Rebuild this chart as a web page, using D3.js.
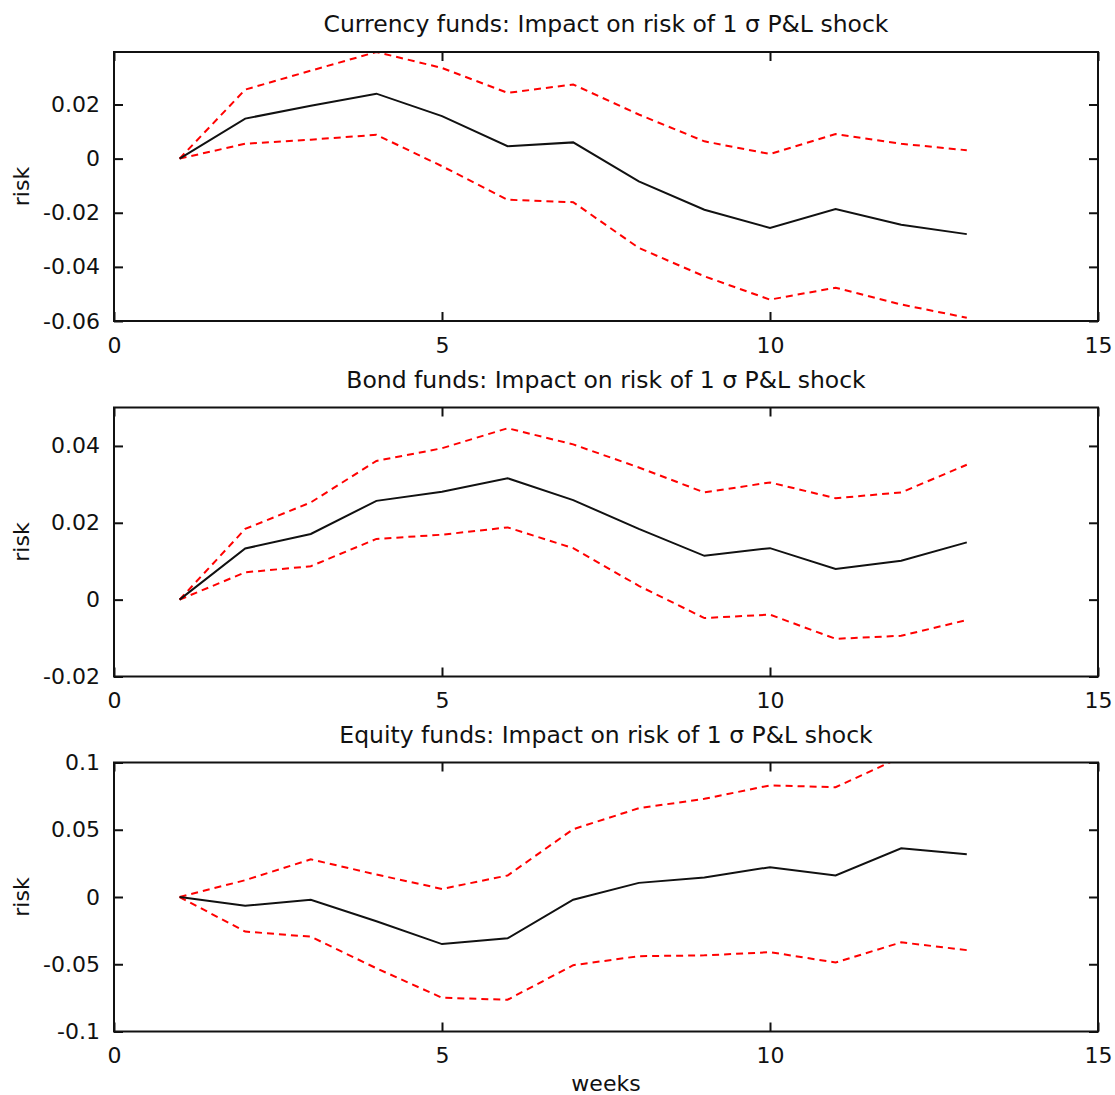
<!DOCTYPE html>
<html>
<head>
<meta charset="utf-8">
<script src="https://cdn.jsdelivr.net/npm/d3@7"></script>
<style>
  html, body { margin: 0; padding: 0; background: #fff; }
  svg { display: block; }
  text { font-family: "DejaVu Sans", sans-serif; fill: #111; }
</style>
</head>
<body>
<script>
// Horizon in weeks after the shock
const weeks = [1, 2, 3, 4, 5, 6, 7, 8, 9, 10, 11, 12, 13];

// Currency funds: impulse response and confidence band
const currencyMid   = [0, 0.0148, 0.0195, 0.0240, 0.0157, 0.0046, 0.0060, -0.0084, -0.0189, -0.0256, -0.0186, -0.0244, -0.0279];
const currencyUpper = [0, 0.0255, 0.0325, 0.0394, 0.0335, 0.0243, 0.0274, 0.0163, 0.0064, 0.0017, 0.0091, 0.0055, 0.0031];
const currencyLower = [0, 0.0055, 0.0070, 0.0088, -0.0028, -0.0152, -0.0161, -0.0330, -0.0435, -0.0521, -0.0477, -0.0539, -0.0588];

// Bond funds
const bondMid   = [0, 0.0133, 0.0171, 0.0257, 0.0281, 0.0316, 0.0259, 0.0184, 0.0114, 0.0134, 0.0080, 0.0101, 0.0149];
const bondUpper = [0, 0.0184, 0.0253, 0.0361, 0.0394, 0.0446, 0.0404, 0.0344, 0.0279, 0.0305, 0.0264, 0.0279, 0.0351];
const bondLower = [0, 0.0071, 0.0087, 0.0158, 0.0169, 0.0188, 0.0134, 0.0036, -0.0048, -0.0039, -0.0102, -0.0094, -0.0053];

// Equity funds
const equityMid   = [0, -0.0065, -0.0020, -0.0180, -0.0350, -0.0307, -0.0020, 0.0105, 0.0145, 0.0222, 0.0160, 0.0362, 0.0317];
const equityUpper = [0, 0.0125, 0.0280, 0.0167, 0.0060, 0.0160, 0.0504, 0.0660, 0.0730, 0.0830, 0.0816, 0.1040, 0.1120];
const equityLower = [0, -0.0257, -0.0295, -0.0530, -0.0749, -0.0764, -0.0507, -0.0440, -0.0434, -0.0410, -0.0487, -0.0337, -0.0395];

// Axis ticks
const xTicks = [0, 5, 10, 15];
const currencyTicks = [-0.06, -0.04, -0.02, 0, 0.02];
const bondTicks = [-0.02, 0, 0.02, 0.04];
const equityTicks = [-0.1, -0.05, 0, 0.05, 0.1];

// Panel titles and axis labels
const titles = [
  "Currency funds: Impact on risk of 1 \u03c3 P&L shock",
  "Bond funds: Impact on risk of 1 \u03c3 P&L shock",
  "Equity funds: Impact on risk of 1 \u03c3 P&L shock"
];
const yLabel = "risk";
const xLabel = "weeks";

const W = 1115, H = 1095;
const left = 114, right = 1098, plotH = 269;
const panelTops = [52, 407.5, 762.5];

const panels = [
  { title: titles[0], domain: [-0.06, 0.0394], ticks: currencyTicks, mid: currencyMid, up: currencyUpper, lo: currencyLower },
  { title: titles[1], domain: [-0.02, 0.05], ticks: bondTicks, mid: bondMid, up: bondUpper, lo: bondLower },
  { title: titles[2], domain: [-0.1, 0.1], ticks: equityTicks, mid: equityMid, up: equityUpper, lo: equityLower }
];

const svg = d3.select("body").append("svg")
  .attr("width", W).attr("height", H);

const x = d3.scaleLinear().domain([0, 15]).range([left, right]);
const fmt = d => String(d);

panels.forEach((p, i) => {
  const top = panelTops[i];
  const bottom = top + plotH;
  const y = d3.scaleLinear().domain(p.domain).range([bottom, top]);
  const g = svg.append("g");

  const clipId = "clip" + i;
  svg.append("clipPath").attr("id", clipId)
    .append("rect").attr("x", left).attr("y", top)
    .attr("width", right - left).attr("height", plotH);

  // Series
  const line = d3.line().x((d, k) => x(weeks[k])).y(d => y(d));
  const lines = g.append("g").attr("clip-path", `url(#${clipId})`);
  [p.up, p.lo].forEach(s => {
    lines.append("path").datum(s)
      .attr("d", line)
      .attr("fill", "none")
      .attr("stroke", "#ff0000")
      .attr("stroke-width", 2)
      .attr("stroke-dasharray", "7,5");
  });
  lines.append("path").datum(p.mid)
    .attr("d", line)
    .attr("fill", "none")
    .attr("stroke", "#111")
    .attr("stroke-width", 2);

  // Axes with inward ticks on all four sides
  const axB = d3.axisBottom(x).tickValues(xTicks).tickFormat(fmt).tickSizeInner(-9).tickSizeOuter(0).tickPadding(16);
  const axT = d3.axisTop(x).tickValues(xTicks).tickFormat("").tickSizeInner(-9).tickSizeOuter(0);
  const axL = d3.axisLeft(y).tickValues(p.ticks).tickFormat(fmt).tickSizeInner(-9).tickSizeOuter(0).tickPadding(14);
  const axR = d3.axisRight(y).tickValues(p.ticks).tickFormat("").tickSizeInner(-9).tickSizeOuter(0);

  const style = sel => {
    sel.selectAll("path.domain").remove();
    sel.selectAll("line").attr("stroke", "#111").attr("stroke-width", 2);
    sel.selectAll("text").style("font-family", "'DejaVu Sans', sans-serif")
      .style("font-size", "22px").attr("fill", "#111");
  };
  g.append("g").attr("transform", `translate(0,${bottom})`).call(axB).call(style);
  g.append("g").attr("transform", `translate(0,${top})`).call(axT).call(style);
  g.append("g").attr("transform", `translate(${left},0)`).call(axL).call(style);
  g.append("g").attr("transform", `translate(${right},0)`).call(axR).call(style);

  // Frame
  g.append("rect")
    .attr("x", left).attr("y", top)
    .attr("width", right - left).attr("height", plotH)
    .attr("fill", "none").attr("stroke", "#111").attr("stroke-width", 2);

  // Title
  g.append("text")
    .attr("x", (left + right) / 2).attr("y", top - 20)
    .attr("text-anchor", "middle")
    .style("font-size", "23.5px")
    .text(p.title);

  // Y label
  g.append("text")
    .attr("transform", `translate(29,${(top + bottom) / 2}) rotate(-90)`)
    .attr("text-anchor", "middle")
    .style("font-size", "22px")
    .text(yLabel);
});

svg.append("text")
  .attr("x", (left + right) / 2).attr("y", 1091)
  .attr("text-anchor", "middle")
  .style("font-size", "22px")
  .text(xLabel);
</script>
</body>
</html>
